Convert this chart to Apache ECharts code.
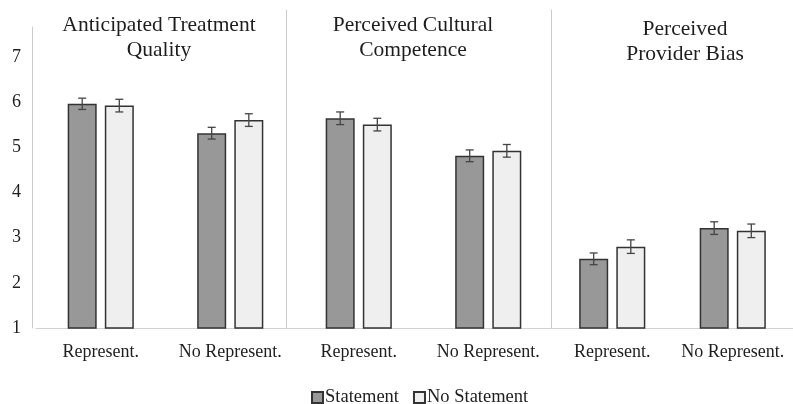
<!DOCTYPE html>
<html>
<head>
<meta charset="utf-8">
<script src="https://cdn.jsdelivr.net/npm/echarts@6/dist/echarts.min.js"></script>
<style>
  html, body { margin: 0; padding: 0; background: #fff; }
  #chart { width: 793px; height: 404px; }
</style>
</head>
<body>
<div id="chart"></div>
<script>
// chart data
var panelTitles = ['Anticipated Treatment\nQuality', 'Perceived Cultural\nCompetence', 'Perceived\nProvider Bias'];
var categories = ['Represent.', 'No Represent.'];
var yTicks = [1, 2, 3, 4, 5, 6, 7];
// two values per panel: Represent., No Represent.
var statementMeans = [5.96, 5.31, 5.64, 4.81, 2.53, 3.21];
var noStatementMeans = [5.92, 5.60, 5.50, 4.92, 2.80, 3.15];
var statementErr = [0.125, 0.13, 0.14, 0.13, 0.13, 0.14];
var noStatementErr = [0.14, 0.14, 0.14, 0.14, 0.15, 0.15];

var FONT = '"Liberation Serif", "Times New Roman", serif';
var TEXT = '#1e1e1e';
var unitPx = 45.2;          // px per 1 unit on y
var bottom = 76;
var barWidth = 29;
var barOffset = (barWidth * 1.28) / 2;

var panels = [
  { left: 36, top: 27, offset: 4, titleX: 159, titleTop: 13 },
  { left: 294, top: 10, offset: 7.5, titleX: 413, titleTop: 13 },
  { left: 552, top: 10, offset: 1, titleX: 685, titleTop: 17 }
];

function errorItem(side) {
  return function (params, api) {
    var cat = api.value(0), mean = api.value(1), err = api.value(2);
    var hi = api.coord([cat, mean + err]);
    var lo = api.coord([cat, mean - err]);
    var x = hi[0] + side * barOffset;
    var cap = 4;
    var style = { stroke: '#454545', lineWidth: 1.3 };
    return {
      type: 'group',
      children: [
        { type: 'line', shape: { x1: x, y1: hi[1], x2: x, y2: lo[1] }, style: style },
        { type: 'line', shape: { x1: x - cap, y1: hi[1], x2: x + cap, y2: hi[1] }, style: style },
        { type: 'line', shape: { x1: x - cap, y1: lo[1], x2: x + cap, y2: lo[1] }, style: style }
      ]
    };
  };
}

var grids = [], xAxes = [], yAxes = [], titles = [], series = [];

panels.forEach(function (p, i) {
  var h = 404 - bottom - p.top;
  grids.push({ left: p.left, top: p.top, width: 259, bottom: bottom });
  titles.push({
    text: panelTitles[i],
    left: p.titleX,
    top: p.titleTop,
    padding: 0,
    textAlign: 'center',
    textStyle: { fontFamily: FONT, fontSize: 21.5, fontWeight: 'normal', color: TEXT, lineHeight: 25 }
  });
  xAxes.push({
    type: 'category',
    gridIndex: i,
    data: categories,
    axisLine: { lineStyle: { color: '#d2d2d2', width: 1 } },
    axisTick: { show: false },
    axisLabel: { interval: 0, hideOverlap: false, fontFamily: FONT, fontSize: 18, color: TEXT, margin: 15 }
  });
  yAxes.push({
    type: 'value',
    gridIndex: i,
    min: yTicks[0],
    max: yTicks[0] + h / unitPx,
    interval: 1,
    offset: p.offset,
    axisLine: { show: true, lineStyle: { color: '#cbcbcb', width: 1 } },
    axisTick: { show: false },
    splitLine: { show: false },
    axisLabel: {
      show: i === 0,
      showMaxLabel: false,
      fontFamily: FONT, fontSize: 18, color: TEXT, margin: 11
    }
  });

  var s = statementMeans.slice(i * 2, i * 2 + 2);
  var n = noStatementMeans.slice(i * 2, i * 2 + 2);
  series.push({
    name: 'Statement', type: 'bar', xAxisIndex: i, yAxisIndex: i,
    barWidth: barWidth, barGap: '28%', data: s,
    itemStyle: { color: '#989898', borderColor: '#333', borderWidth: 1.5 }
  });
  series.push({
    name: 'No Statement', type: 'bar', xAxisIndex: i, yAxisIndex: i,
    barWidth: barWidth, barGap: '28%', data: n,
    itemStyle: { color: '#efefef', borderColor: '#333', borderWidth: 1.5 }
  });
  series.push({
    type: 'custom', xAxisIndex: i, yAxisIndex: i, z: 5,
    renderItem: errorItem(-1),
    data: s.map(function (v, k) { return [k, v, statementErr[i * 2 + k]]; })
  });
  series.push({
    type: 'custom', xAxisIndex: i, yAxisIndex: i, z: 5,
    renderItem: errorItem(1),
    data: n.map(function (v, k) { return [k, v, noStatementErr[i * 2 + k]]; })
  });
});

var chart = echarts.init(document.getElementById('chart'));
chart.setOption({
  animation: false,
  backgroundColor: '#fff',
  title: titles,
  grid: grids,
  xAxis: xAxes,
  yAxis: yAxes,
  legend: {
    data: ['Statement', 'No Statement'],
    icon: 'rect',
    left: 306,
    top: 383,
    itemWidth: 11,
    itemHeight: 11,
    itemGap: 14,
    textStyle: { fontFamily: FONT, fontSize: 18.5, color: TEXT, padding: [0, 0, 0, -3] }
  },
  series: series
});
</script>
</body>
</html>
